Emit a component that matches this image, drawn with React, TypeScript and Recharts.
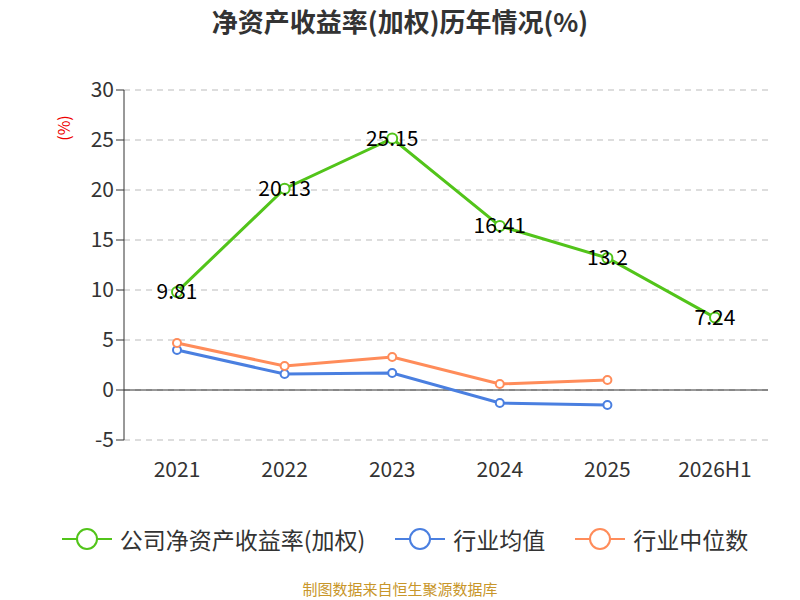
import React from 'react';
import { LineChart, Line, XAxis, YAxis, CartesianGrid, ReferenceLine, LabelList } from 'recharts';

const years = ['2021', '2022', '2023', '2024', '2025', '2026H1'];
const companyRoe = [9.81, 20.13, 25.15, 16.41, 13.2, 7.24];
const industryAvg = [4.0, 1.6, 1.7, -1.3, -1.5, null];
const industryMedian = [4.7, 2.4, 3.3, 0.6, 1.0, null];
const yTicks = [-5, 0, 5, 10, 15, 20, 25, 30];

const data = years.map((y, i) => ({
    year: y,
    company: companyRoe[i],
    avg: industryAvg[i],
    median: industryMedian[i],
}));

const font = '"Noto Sans CJK SC", "Noto Sans", sans-serif';

const LegendItem = ({ color, text }: { color: string; text: string }) => (
    <div style={{ display: 'flex', alignItems: 'center', marginRight: 30 }}>
        <svg width={50} height={24}>
            <line x1={0} y1={12} x2={50} y2={12} stroke={color} strokeWidth={2} />
            <circle cx={25} cy={12} r={10} fill="#fff" stroke={color} strokeWidth={2} />
        </svg>
        <span style={{ fontSize: 23, color: '#333', marginLeft: 8 }}>{text}</span>
    </div>
);

export default function App() {
    return (
        <div style={{ position: 'absolute', left: 0, top: 0, width: 800, height: 600, background: '#fff', fontFamily: font }}>
            <div style={{ position: 'absolute', top: 2, width: 800, textAlign: 'center', fontSize: 26, fontWeight: 'bold', color: '#333' }}>
                净资产收益率(加权)历年情况(%)
            </div>
            <div style={{ position: 'absolute', left: 50, top: 116, transform: 'rotate(-90deg)', color: '#e00', fontSize: 16 }}>(%)</div>
            <LineChart width={800} height={600} data={data} margin={{ top: 90, right: 32, left: 0, bottom: 130 }} style={{ position: 'absolute', left: 0, top: 0 }}>
                <CartesianGrid horizontal vertical={false} stroke="#bbb" strokeDasharray="6 5" />
                <XAxis dataKey="year" height={30} padding={{ left: 53, right: 53 }} axisLine={false} tickLine={false} tick={{ fill: '#333', fontSize: 21 }} dy={14} />
                <YAxis domain={[-5, 30]} ticks={yTicks} width={124} interval={0} tick={{ fill: '#333', fontSize: 21 }} stroke="#333" tickSize={8} />
                <ReferenceLine y={0} stroke="#333" />
                <Line dataKey="company" stroke="#52c41a" strokeWidth={3} dot={{ r: 5, fill: '#fff', strokeWidth: 2 }} isAnimationActive={false}>
                    <LabelList dataKey="company" position="center" fill="#000" fontSize={21} />
                </Line>
                <Line dataKey="avg" stroke="#4a7fe0" strokeWidth={3} dot={{ r: 4, fill: '#fff', strokeWidth: 2 }} isAnimationActive={false} />
                <Line dataKey="median" stroke="#ff8c5a" strokeWidth={3} dot={{ r: 4, fill: '#fff', strokeWidth: 2 }} isAnimationActive={false} />
            </LineChart>
            <div style={{ position: 'absolute', top: 522, left: 20, width: 800, display: 'flex', justifyContent: 'center' }}>
                <LegendItem color="#52c41a" text="公司净资产收益率(加权)" />
                <LegendItem color="#4a7fe0" text="行业均值" />
                <LegendItem color="#ff8c5a" text="行业中位数" />
            </div>
            <div style={{ position: 'absolute', top: 578, width: 800, textAlign: 'center', fontSize: 15, color: '#c8962a' }}>
                制图数据来自恒生聚源数据库
            </div>
        </div>
    );
}
